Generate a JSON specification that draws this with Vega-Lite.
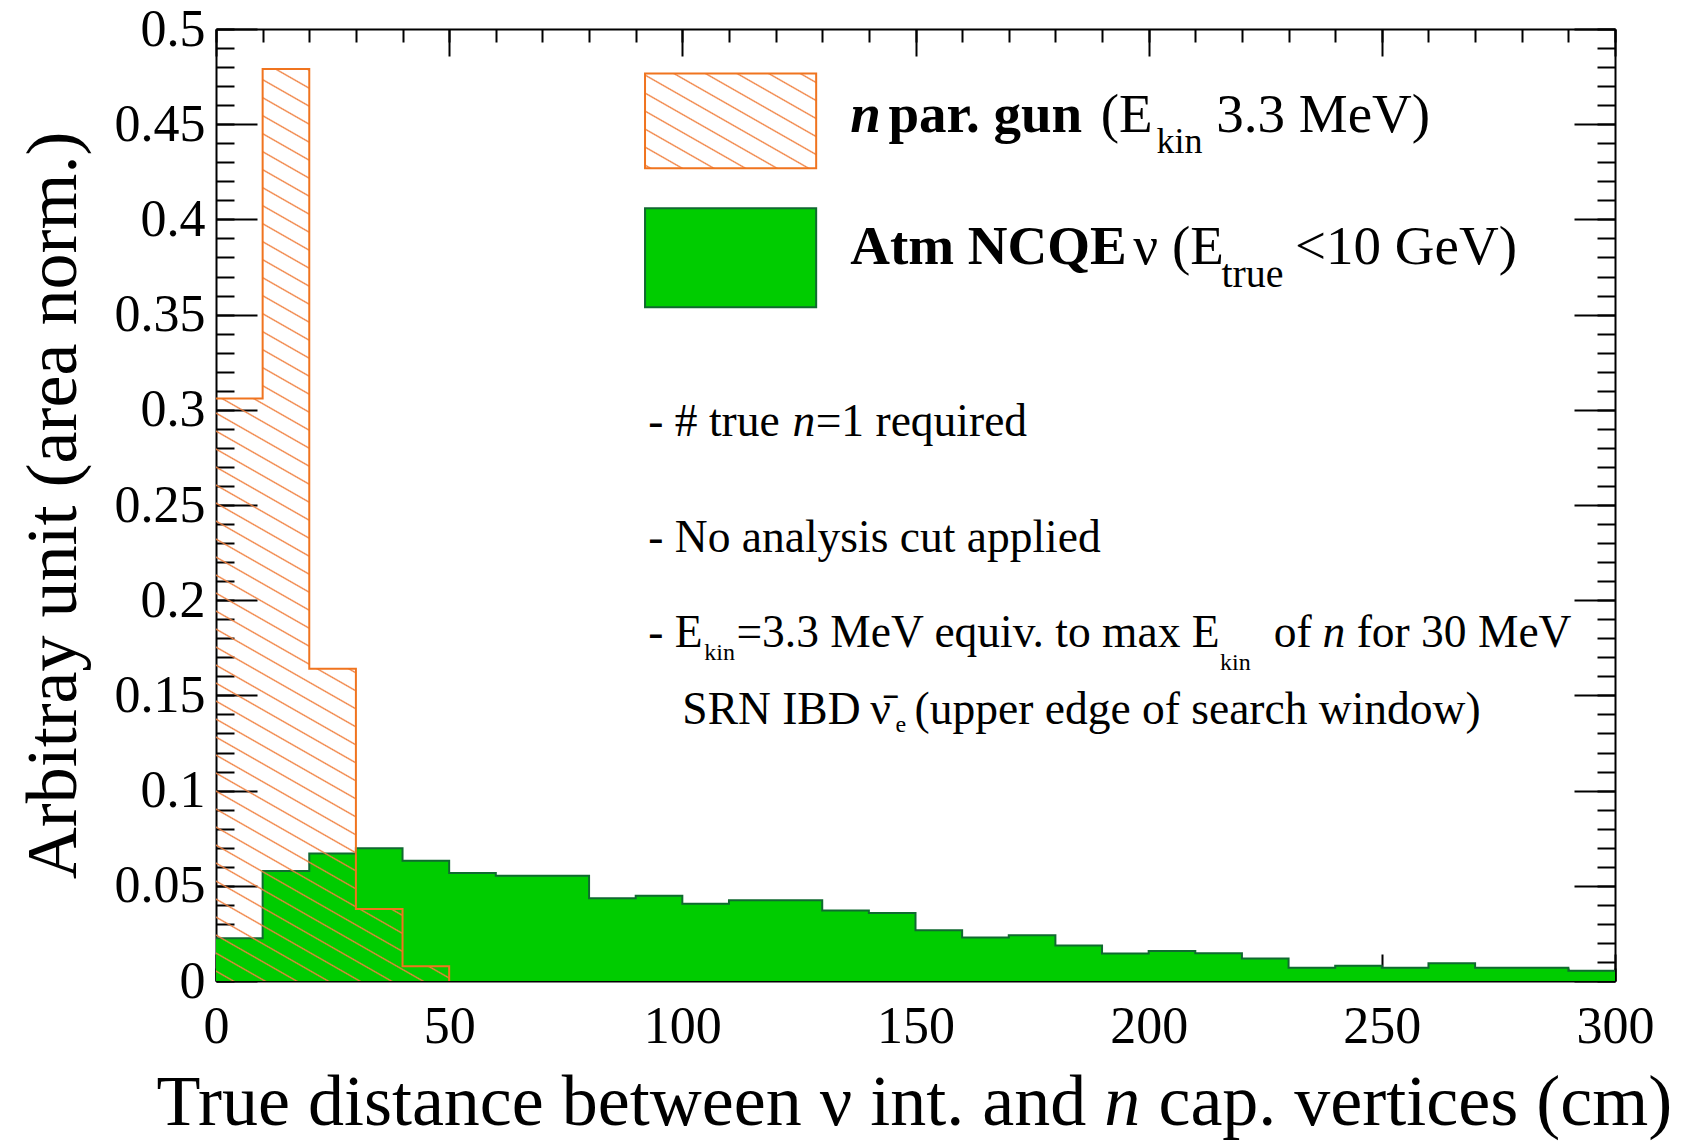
{
  "$schema": "https://vega.github.io/schema/vega-lite/v6.json",
  "width": 1399,
  "height": 952,
  "autosize": {"type": "none"},
  "padding": {"left": 216, "top": 29, "right": 75, "bottom": 160},
  "background": "white",
  "config": {
    "font": "Liberation Serif",
    "view": {"stroke": null},
    "axis": {"labelFont": "Liberation Serif", "titleFont": "Liberation Serif", "grid": false, "zindex": 1, "tickColor": "#000", "tickWidth": 2, "domainColor": "#000", "domainWidth": 2, "labelColor": "#000", "titleColor": "#000"}
  },
  "datasets": {
    "green": [
      {"x": 0, "y": 0.0225}, {"x": 10, "y": 0.0578}, {"x": 20, "y": 0.0670}, {"x": 30, "y": 0.0697},
      {"x": 40, "y": 0.0632}, {"x": 50, "y": 0.0567}, {"x": 60, "y": 0.0553}, {"x": 70, "y": 0.0553},
      {"x": 80, "y": 0.0435}, {"x": 90, "y": 0.0448}, {"x": 100, "y": 0.0406}, {"x": 110, "y": 0.0424},
      {"x": 120, "y": 0.0424}, {"x": 130, "y": 0.0370}, {"x": 140, "y": 0.0357}, {"x": 150, "y": 0.0266},
      {"x": 160, "y": 0.0228}, {"x": 170, "y": 0.0240}, {"x": 180, "y": 0.0187}, {"x": 190, "y": 0.0145},
      {"x": 200, "y": 0.0158}, {"x": 210, "y": 0.0146}, {"x": 220, "y": 0.0118}, {"x": 230, "y": 0.0069},
      {"x": 240, "y": 0.0080}, {"x": 250, "y": 0.0069}, {"x": 260, "y": 0.0093}, {"x": 270, "y": 0.0069},
      {"x": 280, "y": 0.0069}, {"x": 290, "y": 0.0054}, {"x": 300, "y": 0.0054}
    ],
    "orange": [
      {"x": 0, "y": 0.306}, {"x": 10, "y": 0.479}, {"x": 20, "y": 0.164}, {"x": 30, "y": 0.0378},
      {"x": 40, "y": 0.0078}, {"x": 50, "y": 0}
    ]
  },
  "resolve": {"axis": {"x": "independent", "y": "independent"}},
  "layer": [
    {
      "data": {"name": "green"},
      "mark": {"type": "area", "interpolate": "step-after", "fill": "#00cc00", "stroke": null},
      "encoding": {
        "x": {"field": "x", "type": "quantitative", "scale": {"domain": [0, 300], "nice": false, "zero": false},
          "axis": {"orient": "bottom", "values": [0, 50, 100, 150, 200, 250, 300], "tickSize": -27, "labelFontSize": 52, "labelBaseline": "alphabetic", "labelAlign": "center", "labelPadding": 88, "labelFlush": false, "labelOverlap": false, "title": null}},
        "y": {"field": "y", "type": "quantitative", "scale": {"domain": [0, 0.5], "nice": false},
          "axis": {"orient": "left", "values": [0, 0.05, 0.1, 0.15, 0.2, 0.25, 0.3, 0.35, 0.4, 0.45, 0.5], "format": "~g", "tickSize": -41, "labelFontSize": 52, "labelBaseline": "middle", "labelAlign": "right", "labelPadding": 52, "labelFlush": false, "labelOverlap": false,
            "title": "Arbitray unit (area norm.)", "titleFontSize": 72, "titleFontWeight": "normal", "titleX": -141, "titleY": 476, "titleAngle": -90, "titleBaseline": "alphabetic", "titleAlign": "center"}},
        "y2": {"datum": 0}
      }
    },
    {
      "data": {"name": "green"},
      "mark": {"type": "line", "interpolate": "step-after", "stroke": "#106a30", "strokeWidth": 2},
      "encoding": {
        "x": {"field": "x", "type": "quantitative", "scale": {"domain": [0, 300], "nice": false, "zero": false},
          "axis": {"orient": "top", "values": [0, 50, 100, 150, 200, 250, 300], "tickSize": -27, "labels": false, "title": null}},
        "y": {"field": "y", "type": "quantitative", "scale": {"domain": [0, 0.5], "nice": false},
          "axis": {"orient": "right", "values": [0, 0.05, 0.1, 0.15, 0.2, 0.25, 0.3, 0.35, 0.4, 0.45, 0.5], "tickSize": -41, "labels": false, "title": null}}
      }
    },
    {
      "data": {"name": "orange"},
      "mark": {"type": "area", "interpolate": "step-after", "stroke": null,
        "fill": {"gradient": "linear", "x1": 1, "y1": 0, "x2": 0.8310, "y2": 1.1596, "stops": [
          {"offset": 0, "color": "rgba(240,128,63,0)"},
          {"offset": 0.00693, "color": "rgba(240,128,63,0)"}, {"offset": 0.00833, "color": "#f0803f"}, {"offset": 0.00973, "color": "rgba(240,128,63,0)"},
          {"offset": 0.02360, "color": "rgba(240,128,63,0)"}, {"offset": 0.02500, "color": "#f0803f"}, {"offset": 0.02640, "color": "rgba(240,128,63,0)"},
          {"offset": 0.04027, "color": "rgba(240,128,63,0)"}, {"offset": 0.04167, "color": "#f0803f"}, {"offset": 0.04307, "color": "rgba(240,128,63,0)"},
          {"offset": 0.05693, "color": "rgba(240,128,63,0)"}, {"offset": 0.05833, "color": "#f0803f"}, {"offset": 0.05973, "color": "rgba(240,128,63,0)"},
          {"offset": 0.07360, "color": "rgba(240,128,63,0)"}, {"offset": 0.07500, "color": "#f0803f"}, {"offset": 0.07640, "color": "rgba(240,128,63,0)"},
          {"offset": 0.09027, "color": "rgba(240,128,63,0)"}, {"offset": 0.09167, "color": "#f0803f"}, {"offset": 0.09307, "color": "rgba(240,128,63,0)"},
          {"offset": 0.10693, "color": "rgba(240,128,63,0)"}, {"offset": 0.10833, "color": "#f0803f"}, {"offset": 0.10973, "color": "rgba(240,128,63,0)"},
          {"offset": 0.12360, "color": "rgba(240,128,63,0)"}, {"offset": 0.12500, "color": "#f0803f"}, {"offset": 0.12640, "color": "rgba(240,128,63,0)"},
          {"offset": 0.14027, "color": "rgba(240,128,63,0)"}, {"offset": 0.14167, "color": "#f0803f"}, {"offset": 0.14307, "color": "rgba(240,128,63,0)"},
          {"offset": 0.15693, "color": "rgba(240,128,63,0)"}, {"offset": 0.15833, "color": "#f0803f"}, {"offset": 0.15973, "color": "rgba(240,128,63,0)"},
          {"offset": 0.17360, "color": "rgba(240,128,63,0)"}, {"offset": 0.17500, "color": "#f0803f"}, {"offset": 0.17640, "color": "rgba(240,128,63,0)"},
          {"offset": 0.19027, "color": "rgba(240,128,63,0)"}, {"offset": 0.19167, "color": "#f0803f"}, {"offset": 0.19307, "color": "rgba(240,128,63,0)"},
          {"offset": 0.20693, "color": "rgba(240,128,63,0)"}, {"offset": 0.20833, "color": "#f0803f"}, {"offset": 0.20973, "color": "rgba(240,128,63,0)"},
          {"offset": 0.22360, "color": "rgba(240,128,63,0)"}, {"offset": 0.22500, "color": "#f0803f"}, {"offset": 0.22640, "color": "rgba(240,128,63,0)"},
          {"offset": 0.24027, "color": "rgba(240,128,63,0)"}, {"offset": 0.24167, "color": "#f0803f"}, {"offset": 0.24307, "color": "rgba(240,128,63,0)"},
          {"offset": 0.25693, "color": "rgba(240,128,63,0)"}, {"offset": 0.25833, "color": "#f0803f"}, {"offset": 0.25973, "color": "rgba(240,128,63,0)"},
          {"offset": 0.27360, "color": "rgba(240,128,63,0)"}, {"offset": 0.27500, "color": "#f0803f"}, {"offset": 0.27640, "color": "rgba(240,128,63,0)"},
          {"offset": 0.29027, "color": "rgba(240,128,63,0)"}, {"offset": 0.29167, "color": "#f0803f"}, {"offset": 0.29307, "color": "rgba(240,128,63,0)"},
          {"offset": 0.30693, "color": "rgba(240,128,63,0)"}, {"offset": 0.30833, "color": "#f0803f"}, {"offset": 0.30973, "color": "rgba(240,128,63,0)"},
          {"offset": 0.32360, "color": "rgba(240,128,63,0)"}, {"offset": 0.32500, "color": "#f0803f"}, {"offset": 0.32640, "color": "rgba(240,128,63,0)"},
          {"offset": 0.34027, "color": "rgba(240,128,63,0)"}, {"offset": 0.34167, "color": "#f0803f"}, {"offset": 0.34307, "color": "rgba(240,128,63,0)"},
          {"offset": 0.35693, "color": "rgba(240,128,63,0)"}, {"offset": 0.35833, "color": "#f0803f"}, {"offset": 0.35973, "color": "rgba(240,128,63,0)"},
          {"offset": 0.37360, "color": "rgba(240,128,63,0)"}, {"offset": 0.37500, "color": "#f0803f"}, {"offset": 0.37640, "color": "rgba(240,128,63,0)"},
          {"offset": 0.39027, "color": "rgba(240,128,63,0)"}, {"offset": 0.39167, "color": "#f0803f"}, {"offset": 0.39307, "color": "rgba(240,128,63,0)"},
          {"offset": 0.40693, "color": "rgba(240,128,63,0)"}, {"offset": 0.40833, "color": "#f0803f"}, {"offset": 0.40973, "color": "rgba(240,128,63,0)"},
          {"offset": 0.42360, "color": "rgba(240,128,63,0)"}, {"offset": 0.42500, "color": "#f0803f"}, {"offset": 0.42640, "color": "rgba(240,128,63,0)"},
          {"offset": 0.44027, "color": "rgba(240,128,63,0)"}, {"offset": 0.44167, "color": "#f0803f"}, {"offset": 0.44307, "color": "rgba(240,128,63,0)"},
          {"offset": 0.45693, "color": "rgba(240,128,63,0)"}, {"offset": 0.45833, "color": "#f0803f"}, {"offset": 0.45973, "color": "rgba(240,128,63,0)"},
          {"offset": 0.47360, "color": "rgba(240,128,63,0)"}, {"offset": 0.47500, "color": "#f0803f"}, {"offset": 0.47640, "color": "rgba(240,128,63,0)"},
          {"offset": 0.49027, "color": "rgba(240,128,63,0)"}, {"offset": 0.49167, "color": "#f0803f"}, {"offset": 0.49307, "color": "rgba(240,128,63,0)"},
          {"offset": 0.50693, "color": "rgba(240,128,63,0)"}, {"offset": 0.50833, "color": "#f0803f"}, {"offset": 0.50973, "color": "rgba(240,128,63,0)"},
          {"offset": 0.52360, "color": "rgba(240,128,63,0)"}, {"offset": 0.52500, "color": "#f0803f"}, {"offset": 0.52640, "color": "rgba(240,128,63,0)"},
          {"offset": 0.54027, "color": "rgba(240,128,63,0)"}, {"offset": 0.54167, "color": "#f0803f"}, {"offset": 0.54307, "color": "rgba(240,128,63,0)"},
          {"offset": 0.55693, "color": "rgba(240,128,63,0)"}, {"offset": 0.55833, "color": "#f0803f"}, {"offset": 0.55973, "color": "rgba(240,128,63,0)"},
          {"offset": 0.57360, "color": "rgba(240,128,63,0)"}, {"offset": 0.57500, "color": "#f0803f"}, {"offset": 0.57640, "color": "rgba(240,128,63,0)"},
          {"offset": 0.59027, "color": "rgba(240,128,63,0)"}, {"offset": 0.59167, "color": "#f0803f"}, {"offset": 0.59307, "color": "rgba(240,128,63,0)"},
          {"offset": 0.60693, "color": "rgba(240,128,63,0)"}, {"offset": 0.60833, "color": "#f0803f"}, {"offset": 0.60973, "color": "rgba(240,128,63,0)"},
          {"offset": 0.62360, "color": "rgba(240,128,63,0)"}, {"offset": 0.62500, "color": "#f0803f"}, {"offset": 0.62640, "color": "rgba(240,128,63,0)"},
          {"offset": 0.64027, "color": "rgba(240,128,63,0)"}, {"offset": 0.64167, "color": "#f0803f"}, {"offset": 0.64307, "color": "rgba(240,128,63,0)"},
          {"offset": 0.65693, "color": "rgba(240,128,63,0)"}, {"offset": 0.65833, "color": "#f0803f"}, {"offset": 0.65973, "color": "rgba(240,128,63,0)"},
          {"offset": 0.67360, "color": "rgba(240,128,63,0)"}, {"offset": 0.67500, "color": "#f0803f"}, {"offset": 0.67640, "color": "rgba(240,128,63,0)"},
          {"offset": 0.69027, "color": "rgba(240,128,63,0)"}, {"offset": 0.69167, "color": "#f0803f"}, {"offset": 0.69307, "color": "rgba(240,128,63,0)"},
          {"offset": 0.70693, "color": "rgba(240,128,63,0)"}, {"offset": 0.70833, "color": "#f0803f"}, {"offset": 0.70973, "color": "rgba(240,128,63,0)"},
          {"offset": 0.72360, "color": "rgba(240,128,63,0)"}, {"offset": 0.72500, "color": "#f0803f"}, {"offset": 0.72640, "color": "rgba(240,128,63,0)"},
          {"offset": 0.74027, "color": "rgba(240,128,63,0)"}, {"offset": 0.74167, "color": "#f0803f"}, {"offset": 0.74307, "color": "rgba(240,128,63,0)"},
          {"offset": 0.75693, "color": "rgba(240,128,63,0)"}, {"offset": 0.75833, "color": "#f0803f"}, {"offset": 0.75973, "color": "rgba(240,128,63,0)"},
          {"offset": 0.77360, "color": "rgba(240,128,63,0)"}, {"offset": 0.77500, "color": "#f0803f"}, {"offset": 0.77640, "color": "rgba(240,128,63,0)"},
          {"offset": 0.79027, "color": "rgba(240,128,63,0)"}, {"offset": 0.79167, "color": "#f0803f"}, {"offset": 0.79307, "color": "rgba(240,128,63,0)"},
          {"offset": 0.80693, "color": "rgba(240,128,63,0)"}, {"offset": 0.80833, "color": "#f0803f"}, {"offset": 0.80973, "color": "rgba(240,128,63,0)"},
          {"offset": 0.82360, "color": "rgba(240,128,63,0)"}, {"offset": 0.82500, "color": "#f0803f"}, {"offset": 0.82640, "color": "rgba(240,128,63,0)"},
          {"offset": 0.84027, "color": "rgba(240,128,63,0)"}, {"offset": 0.84167, "color": "#f0803f"}, {"offset": 0.84307, "color": "rgba(240,128,63,0)"},
          {"offset": 0.85693, "color": "rgba(240,128,63,0)"}, {"offset": 0.85833, "color": "#f0803f"}, {"offset": 0.85973, "color": "rgba(240,128,63,0)"},
          {"offset": 0.87360, "color": "rgba(240,128,63,0)"}, {"offset": 0.87500, "color": "#f0803f"}, {"offset": 0.87640, "color": "rgba(240,128,63,0)"},
          {"offset": 0.89027, "color": "rgba(240,128,63,0)"}, {"offset": 0.89167, "color": "#f0803f"}, {"offset": 0.89307, "color": "rgba(240,128,63,0)"},
          {"offset": 0.90693, "color": "rgba(240,128,63,0)"}, {"offset": 0.90833, "color": "#f0803f"}, {"offset": 0.90973, "color": "rgba(240,128,63,0)"},
          {"offset": 0.92360, "color": "rgba(240,128,63,0)"}, {"offset": 0.92500, "color": "#f0803f"}, {"offset": 0.92640, "color": "rgba(240,128,63,0)"},
          {"offset": 0.94027, "color": "rgba(240,128,63,0)"}, {"offset": 0.94167, "color": "#f0803f"}, {"offset": 0.94307, "color": "rgba(240,128,63,0)"},
          {"offset": 0.95693, "color": "rgba(240,128,63,0)"}, {"offset": 0.95833, "color": "#f0803f"}, {"offset": 0.95973, "color": "rgba(240,128,63,0)"},
          {"offset": 0.97360, "color": "rgba(240,128,63,0)"}, {"offset": 0.97500, "color": "#f0803f"}, {"offset": 0.97640, "color": "rgba(240,128,63,0)"},
          {"offset": 0.99027, "color": "rgba(240,128,63,0)"}, {"offset": 0.99167, "color": "#f0803f"}, {"offset": 0.99307, "color": "rgba(240,128,63,0)"},
          {"offset": 1, "color": "rgba(240,128,63,0)"}
        ]}},
      "encoding": {
        "x": {"field": "x", "type": "quantitative", "scale": {"domain": [0, 300], "nice": false, "zero": false},
          "axis": {"orient": "bottom", "values": [0, 10, 20, 30, 40, 50, 60, 70, 80, 90, 100, 110, 120, 130, 140, 150, 160, 170, 180, 190, 200, 210, 220, 230, 240, 250, 260, 270, 280, 290, 300], "tickSize": -13, "labels": false, "domain": false, "title": null}},
        "y": {"field": "y", "type": "quantitative", "scale": {"domain": [0, 0.5], "nice": false},
          "axis": {"orient": "left", "values": [0, 0.01, 0.02, 0.03, 0.04, 0.05, 0.06, 0.07, 0.08, 0.09, 0.1, 0.11, 0.12, 0.13, 0.14, 0.15, 0.16, 0.17, 0.18, 0.19, 0.2, 0.21, 0.22, 0.23, 0.24, 0.25, 0.26, 0.27, 0.28, 0.29, 0.3, 0.31, 0.32, 0.33, 0.34, 0.35, 0.36, 0.37, 0.38, 0.39, 0.4, 0.41, 0.42, 0.43, 0.44, 0.45, 0.46, 0.47, 0.48, 0.49, 0.5], "tickSize": -18, "labels": false, "domain": false, "title": null}},
        "y2": {"datum": 0}
      }
    },
    {
      "data": {"name": "orange"},
      "mark": {"type": "line", "interpolate": "step-after", "stroke": "#f0741f", "strokeWidth": 2},
      "encoding": {
        "x": {"field": "x", "type": "quantitative", "scale": {"domain": [0, 300], "nice": false, "zero": false},
          "axis": {"orient": "top", "values": [0, 10, 20, 30, 40, 50, 60, 70, 80, 90, 100, 110, 120, 130, 140, 150, 160, 170, 180, 190, 200, 210, 220, 230, 240, 250, 260, 270, 280, 290, 300], "tickSize": -13, "labels": false, "domain": false, "title": null}},
        "y": {"field": "y", "type": "quantitative", "scale": {"domain": [0, 0.5], "nice": false},
          "axis": {"orient": "right", "values": [0, 0.01, 0.02, 0.03, 0.04, 0.05, 0.06, 0.07, 0.08, 0.09, 0.1, 0.11, 0.12, 0.13, 0.14, 0.15, 0.16, 0.17, 0.18, 0.19, 0.2, 0.21, 0.22, 0.23, 0.24, 0.25, 0.26, 0.27, 0.28, 0.29, 0.3, 0.31, 0.32, 0.33, 0.34, 0.35, 0.36, 0.37, 0.38, 0.39, 0.4, 0.41, 0.42, 0.43, 0.44, 0.45, 0.46, 0.47, 0.48, 0.49, 0.5], "tickSize": -18, "labels": false, "domain": false, "title": null}}
      }
    },
    {
      "data": {"values": [{"x": 92.0, "x2": 128.7, "y": 0.4268, "y2": 0.4766}]},
      "mark": {"type": "rect", "stroke": "#f0741f", "strokeWidth": 2,
        "fill": {"gradient": "linear", "x1": 1, "y1": 0, "x2": -0.0439, "y2": 1.0150, "stops": [
          {"offset": 0, "color": "rgba(240,128,63,0)"},
          {"offset": 0.03785, "color": "rgba(240,128,63,0)"}, {"offset": 0.04545, "color": "#f0803f"}, {"offset": 0.05305, "color": "rgba(240,128,63,0)"},
          {"offset": 0.12876, "color": "rgba(240,128,63,0)"}, {"offset": 0.13636, "color": "#f0803f"}, {"offset": 0.14396, "color": "rgba(240,128,63,0)"},
          {"offset": 0.21967, "color": "rgba(240,128,63,0)"}, {"offset": 0.22727, "color": "#f0803f"}, {"offset": 0.23487, "color": "rgba(240,128,63,0)"},
          {"offset": 0.31058, "color": "rgba(240,128,63,0)"}, {"offset": 0.31818, "color": "#f0803f"}, {"offset": 0.32578, "color": "rgba(240,128,63,0)"},
          {"offset": 0.40149, "color": "rgba(240,128,63,0)"}, {"offset": 0.40909, "color": "#f0803f"}, {"offset": 0.41669, "color": "rgba(240,128,63,0)"},
          {"offset": 0.4924, "color": "rgba(240,128,63,0)"}, {"offset": 0.5, "color": "#f0803f"}, {"offset": 0.5076, "color": "rgba(240,128,63,0)"},
          {"offset": 0.58331, "color": "rgba(240,128,63,0)"}, {"offset": 0.59091, "color": "#f0803f"}, {"offset": 0.59851, "color": "rgba(240,128,63,0)"},
          {"offset": 0.67422, "color": "rgba(240,128,63,0)"}, {"offset": 0.68182, "color": "#f0803f"}, {"offset": 0.68942, "color": "rgba(240,128,63,0)"},
          {"offset": 0.76513, "color": "rgba(240,128,63,0)"}, {"offset": 0.77273, "color": "#f0803f"}, {"offset": 0.78033, "color": "rgba(240,128,63,0)"},
          {"offset": 0.85604, "color": "rgba(240,128,63,0)"}, {"offset": 0.86364, "color": "#f0803f"}, {"offset": 0.87124, "color": "rgba(240,128,63,0)"},
          {"offset": 0.94695, "color": "rgba(240,128,63,0)"}, {"offset": 0.95455, "color": "#f0803f"}, {"offset": 0.96215, "color": "rgba(240,128,63,0)"},
          {"offset": 1, "color": "rgba(240,128,63,0)"}
        ]}},
      "encoding": {
        "x": {"field": "x", "type": "quantitative", "scale": {"domain": [0, 300], "nice": false, "zero": false}, "axis": null},
        "x2": {"field": "x2"},
        "y": {"field": "y", "type": "quantitative", "scale": {"domain": [0, 0.5], "nice": false}, "axis": null},
        "y2": {"field": "y2"}
      }
    },
    {
      "data": {"values": [{"x": 92.0, "x2": 128.7, "y": 0.3538, "y2": 0.4059}]},
      "mark": {"type": "rect", "fill": "#00cc00", "stroke": "#106a30", "strokeWidth": 2},
      "encoding": {
        "x": {"field": "x", "type": "quantitative", "scale": {"domain": [0, 300], "nice": false, "zero": false}, "axis": null},
        "x2": {"field": "x2"},
        "y": {"field": "y", "type": "quantitative", "scale": {"domain": [0, 0.5], "nice": false}, "axis": null},
        "y2": {"field": "y2"}
      }
    },
    {
      "data": {"values": [{"x": 136.0, "y": 0.4458, "t": "n"}]},
      "mark": {"type": "text", "font": "Liberation Serif", "fontSize": 55, "fontWeight": "bold", "fontStyle": "italic", "align": "left", "baseline": "alphabetic", "color": "#000"},
      "encoding": {
        "x": {"field": "x", "type": "quantitative", "scale": {"domain": [0, 300], "nice": false, "zero": false}, "axis": null},
        "y": {"field": "y", "type": "quantitative", "scale": {"domain": [0, 0.5], "nice": false}, "axis": null},
        "text": {"field": "t"}
      }
    },
    {
      "data": {"values": [{"x": 144.2, "y": 0.4458, "t": "par. gun"}, {"x": 136.0, "y": 0.3766, "t": "Atm NCQE"}]},
      "mark": {"type": "text", "font": "Liberation Serif", "fontSize": 55, "fontWeight": "bold", "align": "left", "baseline": "alphabetic", "color": "#000"},
      "encoding": {
        "x": {"field": "x", "type": "quantitative", "scale": {"domain": [0, 300], "nice": false, "zero": false}, "axis": null},
        "y": {"field": "y", "type": "quantitative", "scale": {"domain": [0, 0.5], "nice": false}, "axis": null},
        "text": {"field": "t"}
      }
    },
    {
      "data": {"values": [
        {"x": 189.7, "y": 0.4458, "t": "(E"}, {"x": 214.5, "y": 0.4458, "t": "3.3 MeV)"},
        {"x": 196.7, "y": 0.3766, "t": "ν (E"}, {"x": 231.4, "y": 0.3766, "t": "<10 GeV)"}
      ]},
      "mark": {"type": "text", "font": "Liberation Serif", "fontSize": 55, "align": "left", "baseline": "alphabetic", "color": "#000"},
      "encoding": {
        "x": {"field": "x", "type": "quantitative", "scale": {"domain": [0, 300], "nice": false, "zero": false}, "axis": null},
        "y": {"field": "y", "type": "quantitative", "scale": {"domain": [0, 0.5], "nice": false}, "axis": null},
        "text": {"field": "t"}
      }
    },
    {
      "data": {"values": [{"x": 201.7, "y": 0.4348, "t": "kin"}]},
      "mark": {"type": "text", "font": "Liberation Serif", "fontSize": 36, "align": "left", "baseline": "alphabetic", "color": "#000"},
      "encoding": {
        "x": {"field": "x", "type": "quantitative", "scale": {"domain": [0, 300], "nice": false, "zero": false}, "axis": null},
        "y": {"field": "y", "type": "quantitative", "scale": {"domain": [0, 0.5], "nice": false}, "axis": null},
        "text": {"field": "t"}
      }
    },
    {
      "data": {"values": [{"x": 215.6, "y": 0.3646, "t": "true"}]},
      "mark": {"type": "text", "font": "Liberation Serif", "fontSize": 40, "align": "left", "baseline": "alphabetic", "color": "#000"},
      "encoding": {
        "x": {"field": "x", "type": "quantitative", "scale": {"domain": [0, 300], "nice": false, "zero": false}, "axis": null},
        "y": {"field": "y", "type": "quantitative", "scale": {"domain": [0, 0.5], "nice": false}, "axis": null},
        "text": {"field": "t"}
      }
    },
    {
      "data": {"values": [
        {"x": 92.7, "y": 0.2861, "t": "- # true"}, {"x": 128.6, "y": 0.2861, "t": "=1 required"},
        {"x": 92.7, "y": 0.2254, "t": "- No analysis cut applied"},
        {"x": 92.7, "y": 0.1755, "t": "- E"}, {"x": 111.6, "y": 0.1755, "t": "=3.3 MeV equiv. to max E"},
        {"x": 226.8, "y": 0.1755, "t": "of"}, {"x": 244.6, "y": 0.1755, "t": "for 30 MeV"},
        {"x": 100.0, "y": 0.1349, "t": "SRN IBD"}, {"x": 140.3, "y": 0.1349, "t": "ν̄"},
        {"x": 149.8, "y": 0.1349, "t": "(upper edge of search window)"}
      ]},
      "mark": {"type": "text", "font": "Liberation Serif", "fontSize": 45.5, "align": "left", "baseline": "alphabetic", "color": "#000"},
      "encoding": {
        "x": {"field": "x", "type": "quantitative", "scale": {"domain": [0, 300], "nice": false, "zero": false}, "axis": null},
        "y": {"field": "y", "type": "quantitative", "scale": {"domain": [0, 0.5], "nice": false}, "axis": null},
        "text": {"field": "t"}
      }
    },
    {
      "data": {"values": [{"x": 123.6, "y": 0.2861, "t": "n"}, {"x": 237.3, "y": 0.1755, "t": "n"}]},
      "mark": {"type": "text", "font": "Liberation Serif", "fontSize": 45.5, "fontStyle": "italic", "align": "left", "baseline": "alphabetic", "color": "#000"},
      "encoding": {
        "x": {"field": "x", "type": "quantitative", "scale": {"domain": [0, 300], "nice": false, "zero": false}, "axis": null},
        "y": {"field": "y", "type": "quantitative", "scale": {"domain": [0, 0.5], "nice": false}, "axis": null},
        "text": {"field": "t"}
      }
    },
    {
      "data": {"values": [{"x": 104.7, "y": 0.1685, "t": "kin"}, {"x": 215.3, "y": 0.1632, "t": "kin"}, {"x": 145.7, "y": 0.1310, "t": "e"}]},
      "mark": {"type": "text", "font": "Liberation Serif", "fontSize": 24, "align": "left", "baseline": "alphabetic", "color": "#000"},
      "encoding": {
        "x": {"field": "x", "type": "quantitative", "scale": {"domain": [0, 300], "nice": false, "zero": false}, "axis": null},
        "y": {"field": "y", "type": "quantitative", "scale": {"domain": [0, 0.5], "nice": false}, "axis": null},
        "text": {"field": "t"}
      }
    },
    {
      "data": {"values": [{"x": 186.6, "y": -0.0757, "t": "True distance between ν int. and"}]},
      "mark": {"type": "text", "font": "Liberation Serif", "fontSize": 72, "align": "right", "baseline": "alphabetic", "color": "#000"},
      "encoding": {
        "x": {"field": "x", "type": "quantitative", "scale": {"domain": [0, 300], "nice": false, "zero": false}, "axis": null},
        "y": {"field": "y", "type": "quantitative", "scale": {"domain": [0, 0.5], "nice": false}, "axis": null},
        "text": {"field": "t"}
      }
    },
    {
      "data": {"values": [{"x": 202.1, "y": -0.0757, "t": "cap. vertices (cm)"}]},
      "mark": {"type": "text", "font": "Liberation Serif", "fontSize": 72, "align": "left", "baseline": "alphabetic", "color": "#000"},
      "encoding": {
        "x": {"field": "x", "type": "quantitative", "scale": {"domain": [0, 300], "nice": false, "zero": false}, "axis": null},
        "y": {"field": "y", "type": "quantitative", "scale": {"domain": [0, 0.5], "nice": false}, "axis": null},
        "text": {"field": "t"}
      }
    },
    {
      "data": {"values": [{"x": 190.5, "y": -0.0757, "t": "n"}]},
      "mark": {"type": "text", "font": "Liberation Serif", "fontSize": 72, "fontStyle": "italic", "align": "left", "baseline": "alphabetic", "color": "#000"},
      "encoding": {
        "x": {"field": "x", "type": "quantitative", "scale": {"domain": [0, 300], "nice": false, "zero": false}, "axis": null},
        "y": {"field": "y", "type": "quantitative", "scale": {"domain": [0, 0.5], "nice": false}, "axis": null},
        "text": {"field": "t"}
      }
    }
  ]
}
